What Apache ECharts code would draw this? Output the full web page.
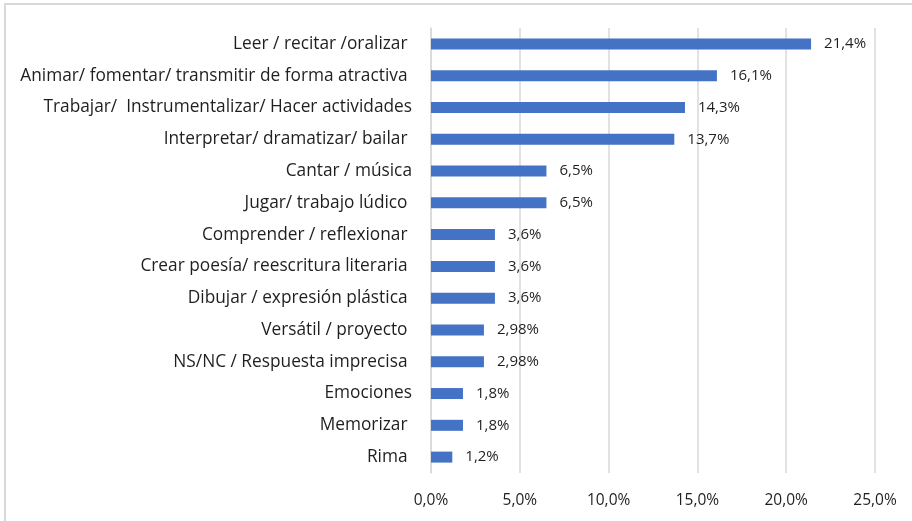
<!DOCTYPE html>
<html>
<head>
<meta charset="utf-8">
<script src="https://cdn.jsdelivr.net/npm/echarts@6/dist/echarts.min.js"></script>
<style>
  html, body { margin: 0; padding: 0; background: #fff; overflow: hidden; }
  #frame { position: absolute; left: 4px; top: 3px; width: 940px; height: 560px; border: 2px solid #d9d9d9; }
  #chart { position: absolute; left: 0; top: 0; width: 912px; height: 521px; }
</style>
</head>
<body>
<div id="frame"></div>
<div id="chart"></div>
<script>
// === Datos ===================================================================
const categories = [
  'Leer / recitar /oralizar ',
  'Animar/ fomentar/ transmitir de forma atractiva ',
  'Trabajar/  Instrumentalizar/ Hacer actividades',
  'Interpretar/ dramatizar/ bailar ',
  'Cantar / música',
  'Jugar/ trabajo lúdico ',
  'Comprender / reflexionar ',
  'Crear poesía/ reescritura literaria ',
  'Dibujar / expresión plástica ',
  'Versátil / proyecto ',
  'NS/NC / Respuesta imprecisa ',
  'Emociones',
  'Memorizar ',
  'Rima '
];
const values = [21.4, 16.1, 14.3, 13.7, 6.5, 6.5, 3.6, 3.6, 3.6, 2.98, 2.98, 1.8, 1.8, 1.2];
const xTicks = [0, 5, 10, 15, 20, 25];

// === Estilo ==================================================================
const blue = '#4472c4', grid = '#d9d9d9', txt = '#1f1f1f';
const font = '"Open Sans", sans-serif';
const comma = v => String(v).replace('.', ',');

const chart = echarts.init(document.getElementById('chart'));
chart.setOption({
  animation: false,
  grid: { left: 431, right: 37, top: 28, bottom: 48 },
  xAxis: {
    type: 'value',
    min: xTicks[0], max: xTicks[xTicks.length - 1], interval: 5,
    axisLine: { show: false }, axisTick: { show: false },
    axisLabel: { color: txt, fontFamily: font, fontSize: 15.5, margin: 20,
      formatter: v => v.toFixed(1).replace('.', ',') + '%' },
    splitLine: { lineStyle: { color: grid, width: 1.5 } }
  },
  yAxis: {
    type: 'category', data: categories, inverse: true,
    axisLine: { show: true, lineStyle: { color: grid, width: 1.5 } },
    axisTick: { show: false },
    axisLabel: { color: txt, fontFamily: font, fontSize: 17.3, margin: 19 }
  },
  series: [{
    type: 'bar', data: values, barWidth: 11,
    itemStyle: { color: blue },
    label: { show: true, position: 'right', distance: 13, color: txt,
      fontFamily: font, fontSize: 15, formatter: p => comma(p.value) + '%' }
  }]
});
</script>
</body>
</html>
